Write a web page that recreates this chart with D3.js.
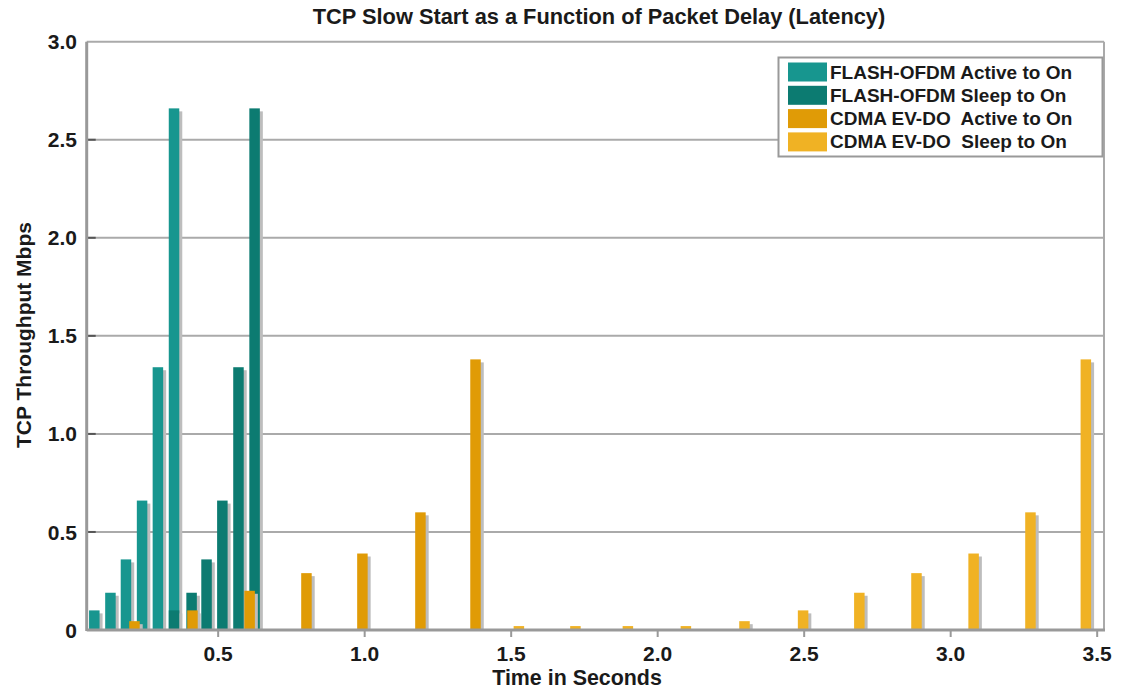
<!DOCTYPE html>
<html>
<head>
<meta charset="utf-8">
<script src="https://cdn.jsdelivr.net/npm/d3@7"></script>
<style>
  body { margin: 0; background: #fff; }
  text { font-family: 'Liberation Sans', Arial, sans-serif; font-weight: bold; fill: #1a1a1a; }
</style>
</head>
<body>
<script>
// data
const seriesNames = ['FLASH-OFDM Active to On', 'FLASH-OFDM Sleep to On', 'CDMA EV-DO  Active to On', 'CDMA EV-DO  Sleep to On']
const flashActiveTimes = [0.079, 0.134, 0.187, 0.242, 0.296, 0.351]
const flashActiveValues = [0.1, 0.19, 0.36, 0.66, 1.34, 2.66]
const flashSleepTimes = [0.351, 0.411, 0.462, 0.516, 0.571, 0.626]
const flashSleepValues = [0.1, 0.19, 0.36, 0.66, 1.34, 2.66]
const cdmaActiveTimes = [0.216, 0.414, 0.609, 0.803, 0.994, 1.192, 1.38]
const cdmaActiveValues = [0.045, 0.1, 0.2, 0.29, 0.39, 0.6, 1.38]
const cdmaSleepTimes = [1.528, 1.721, 1.9, 2.098, 2.298, 2.498, 2.69, 2.885, 3.08, 3.274, 3.463]
const cdmaSleepValues = [0.02, 0.02, 0.02, 0.02, 0.045, 0.1, 0.19, 0.29, 0.39, 0.6, 1.38]
const xTicks = [0.5, 1.0, 1.5, 2.0, 2.5, 3.0, 3.5]
const yTicks = [0, 0.5, 1.0, 1.5, 2.0, 2.5, 3.0]

const colors = ['#17968f', '#0c7b71', '#e09b06', '#f0b224']
const series = [
    { times: flashActiveTimes, values: flashActiveValues },
    { times: flashSleepTimes, values: flashSleepValues },
    { times: cdmaActiveTimes, values: cdmaActiveValues },
    { times: cdmaSleepTimes, values: cdmaSleepValues }
]

const width = 1128, height = 691
const plotLeft = 86.7, plotRight = 1104, plotTop = 41.7, plotBottom = 630

const x = d3.scaleLinear().domain([0.053, 3.525]).range([plotLeft, plotRight])
const y = d3.scaleLinear().domain([0, 3]).range([plotBottom, plotTop])

const svg = d3.select('body')
    .append('svg')
    .attr('width', width)
    .attr('height', height)

// gridlines
svg.append('g')
    .selectAll('line')
    .data(yTicks.filter(d => d > 0))
    .enter()
    .append('line')
    .attr('x1', plotLeft)
    .attr('x2', plotRight)
    .attr('y1', d => y(d))
    .attr('y2', d => y(d))
    .attr('stroke', '#aaa')
    .attr('stroke-width', 2)

// small tick marks on the left axis
svg.append('g')
    .selectAll('line')
    .data(yTicks.filter(d => d > 0 && d < 3))
    .enter()
    .append('line')
    .attr('x1', plotLeft)
    .attr('x2', plotLeft + 9)
    .attr('y1', d => y(d))
    .attr('y2', d => y(d))
    .attr('stroke', '#555')
    .attr('stroke-width', 2)

// right border
svg.append('line')
    .attr('x1', plotRight).attr('x2', plotRight)
    .attr('y1', plotTop).attr('y2', plotBottom)
    .attr('stroke', '#aaa')
    .attr('stroke-width', 2)

// bars with a grey shadow
const barW = 10.5
series.forEach((s, i) => {
    const g = svg.append('g')
    const pts = s.times.map((t, j) => ({ t: t, v: s.values[j] }))
    g.selectAll('rect.shadow')
        .data(pts)
        .enter()
        .append('rect')
        .attr('class', 'shadow')
        .attr('x', d => x(d.t) - barW / 2 + 3)
        .attr('y', d => y(d.v) + 3)
        .attr('width', barW)
        .attr('height', d => Math.max(0, plotBottom - y(d.v) - 3))
        .attr('fill', '#bdbdbd')
    g.selectAll('rect.bar')
        .data(pts)
        .enter()
        .append('rect')
        .attr('class', 'bar')
        .attr('x', d => x(d.t) - barW / 2)
        .attr('y', d => y(d.v))
        .attr('width', barW)
        .attr('height', d => plotBottom - y(d.v))
        .attr('fill', colors[i])
})

// axes lines
svg.append('line')
    .attr('x1', plotLeft).attr('x2', plotLeft)
    .attr('y1', plotTop).attr('y2', plotBottom + 1)
    .attr('stroke', '#999')
    .attr('stroke-width', 3)
svg.append('line')
    .attr('x1', plotLeft).attr('x2', plotRight + 1)
    .attr('y1', plotBottom).attr('y2', plotBottom)
    .attr('stroke', '#999')
    .attr('stroke-width', 3)

// x axis
const xAxis = svg.append('g')
    .attr('transform', `translate(0,${plotBottom})`)
    .call(d3.axisBottom(x).tickValues(xTicks).tickFormat(d3.format('.1f')).tickSize(7).tickPadding(9))
xAxis.select('.domain').remove()
xAxis.selectAll('line').attr('stroke', '#999').attr('stroke-width', 2)
xAxis.selectAll('text').attr('font-size', 21).attr('fill', '#1a1a1a')

// y axis labels
svg.append('g')
    .selectAll('text')
    .data(yTicks)
    .enter()
    .append('text')
    .attr('x', 77)
    .attr('y', d => y(d))
    .attr('dy', '0.36em')
    .attr('text-anchor', 'end')
    .attr('font-size', 21)
    .text(d => d === 0 ? '0' : d3.format('.1f')(d))

// titles
svg.append('text')
    .attr('x', 599)
    .attr('y', 24)
    .attr('text-anchor', 'middle')
    .attr('font-size', 21.8)
    .text('TCP Slow Start as a Function of Packet Delay (Latency)')
svg.append('text')
    .attr('x', 577)
    .attr('y', 685)
    .attr('text-anchor', 'middle')
    .attr('font-size', 21.4)
    .text('Time in Seconds')
svg.append('text')
    .attr('transform', 'translate(31,335) rotate(-90)')
    .attr('text-anchor', 'middle')
    .attr('font-size', 21)
    .text('TCP Throughput Mbps')

// legend
const legend = svg.append('g')
legend.append('rect')
    .attr('x', 778.5)
    .attr('y', 57.5)
    .attr('width', 324)
    .attr('height', 99)
    .attr('fill', '#fff')
    .attr('stroke', '#999')
    .attr('stroke-width', 2)
const items = legend.selectAll('g.item')
    .data(seriesNames)
    .enter()
    .append('g')
    .attr('class', 'item')
    .attr('transform', (d, i) => `translate(788,${62.5 + i * 23.3})`)
items.append('rect')
    .attr('width', 39)
    .attr('height', 19)
    .attr('fill', (d, i) => colors[i])
items.append('text')
    .attr('x', 42)
    .attr('y', 16)
    .attr('font-size', 19)
    .style('white-space', 'pre')
    .text(d => d)
</script>
</body>
</html>
